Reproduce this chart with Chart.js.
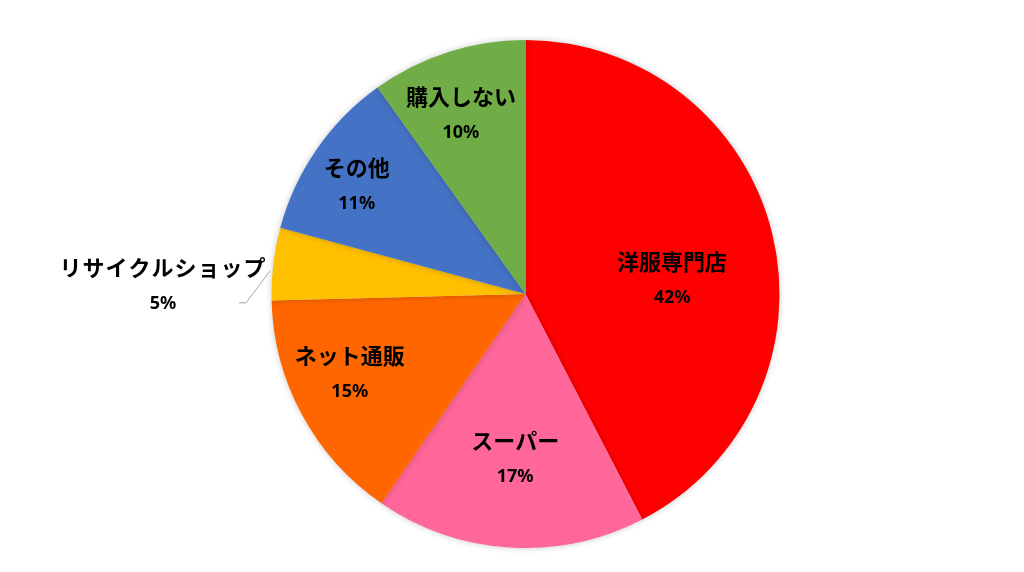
<!doctype html>
<html lang="ja">
<head>
<meta charset="utf-8">
<title>購入先</title>
<style>
  html, body { margin: 0; padding: 0; background: #fff; }
  #wrap { width: 1024px; height: 572px; }
</style>
</head>
<body>
<div id="wrap"><canvas id="myChart" width="1024" height="572"></canvas></div>
<script src="https://cdn.jsdelivr.net/npm/chart.js@4"></script>
<script>
var labels = ['洋服専門店', 'スーパー', 'ネット通販', 'リサイクルショップ', 'その他', '購入しない']
var values = [42.4, 17.2, 15.0, 4.6, 10.9, 9.9]
var colors = ['#FF0000', '#FF6699', '#FF6600', '#FFC000', '#4472C4', '#70AD47']

// where each label sits, as a share of the radius (and a small angle nudge in degrees)
var labelRadius = [0.58, 0.65, 0.76, 1.42, 0.79, 0.75]
var labelNudge = [8, 0, 4, -3, -2, -2]

var sliceLabels = {
    id: 'sliceLabels',
    afterDatasetsDraw: function (chart) {
        var ctx = chart.ctx
        var meta = chart.getDatasetMeta(0)
        meta.data.forEach(function (arc, i) {
            var mid = (arc.startAngle + arc.endAngle) / 2 + labelNudge[i] * Math.PI / 180
            var r = arc.outerRadius * labelRadius[i]
            var x = arc.x + Math.cos(mid) * r
            var y = arc.y + Math.sin(mid) * r
            if (labelRadius[i] > 1) {
                // leader line from the slice edge
                var ex = arc.x + Math.cos(mid) * (arc.outerRadius + 2)
                var ey = arc.y + Math.sin(mid) * (arc.outerRadius + 2)
                ctx.save()
                ctx.strokeStyle = '#a6a6a6'
                ctx.lineWidth = 1
                ctx.beginPath()
                ctx.moveTo(ex, ey - 6)
                ctx.lineTo(ex - 24, ey + 26)
                ctx.lineTo(ex - 31, ey + 26)
                ctx.stroke()
                ctx.restore()
                x = 163
                y = 286
            }
            ctx.save()
            ctx.fillStyle = '#000'
            ctx.textAlign = 'center'
            ctx.textBaseline = 'middle'
            ctx.font = 'bold 22px "Noto Sans CJK JP"'
            if (i == 3) {
                ctx.letterSpacing = '1px'
            }
            ctx.fillText(labels[i], x, y - 18)
            ctx.letterSpacing = '0px'
            ctx.font = 'bold 18px "Noto Sans", "DejaVu Sans", sans-serif'
            ctx.fillText(Math.round(values[i]) + '%', x, y + 18)
            ctx.restore()
        })
    }
}

var pieShadow = {
    id: 'pieShadow',
    beforeDatasetsDraw: function (chart) {
        chart.ctx.save()
        chart.ctx.shadowColor = 'rgba(0,0,0,0.22)'
        chart.ctx.shadowBlur = 6
    },
    afterDatasetsDraw: function (chart) {
        chart.ctx.restore()
    }
}

var myChart = document.getElementById('myChart').getContext('2d')

var chart = new Chart(myChart, {
    type: 'pie',
    data: {
        labels: labels,
        datasets: [{
            data: values,
            backgroundColor: colors,
            borderWidth: 0
        }]
    },
    options: {
        responsive: false,
        animation: false,
        layout: { padding: { top: 40, bottom: 24, left: 27, right: 0 } },
        plugins: {
            legend: { display: false },
            tooltip: { enabled: false }
        }
    },
    plugins: [pieShadow, sliceLabels]
})
</script>
</body>
</html>
